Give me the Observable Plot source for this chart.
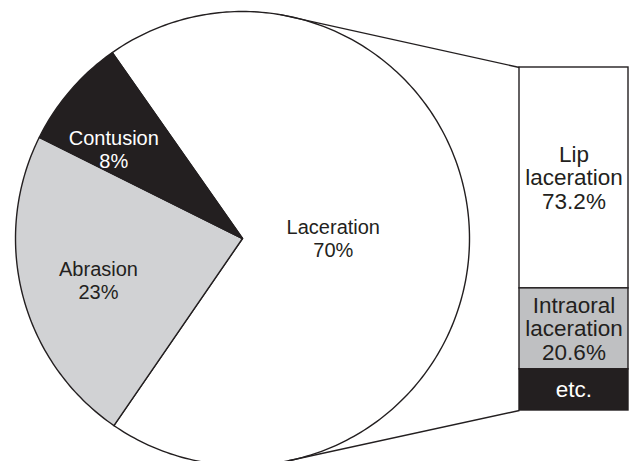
<!DOCTYPE html>
<html>
<head>
<meta charset="utf-8">
<script src="https://cdn.jsdelivr.net/npm/d3@7"></script>
<script src="https://cdn.jsdelivr.net/npm/@observablehq/plot@0.6"></script>
<style>
  html, body { margin: 0; padding: 0; background: #ffffff; }
  #chart svg { display: block; }
</style>
</head>
<body>
<div id="chart"></div>
<script>
// ---- data ----
const pieNames = ["Laceration", "Abrasion", "Contusion"];
const piePct = [70, 23, 8];
const subNames = ["Lip\nlaceration", "Intraoral\nlaceration", "etc."];
const subPct = [73.2, 20.6, null];
const subDrawn = [64.4, 23.6, 12.0]; // segment sizes as drawn in the picture

// ---- styles / layout ----
const W = 635, H = 461;
const cx = 242, cy = 238, R = 227;           // pie centre and radius (px)
const ink = "#231f20", pieGray = "#d1d2d4", boxGray = "#bfc0c2";
const pieFill = ["#ffffff", pieGray, ink];
const pieText = [ink, ink, "#ffffff"];
const subFill = ["#ffffff", boxGray, ink];
const subText = [ink, ink, "#ffffff"];
const font = "'Liberation Sans', Arial, Helvetica, sans-serif";
const rad = Math.PI / 180;
const startDeg = -35;
const labelR = [0.40, 0.66, 0.69];
const labelShift = [0, -1.5, -6];
const box = {x1: (519 - cx) / R, x2: (628 - cx) / R, top: (cy - 67) / R, bottom: (cy - 410) / R};
const connectorDeg = [9.6, 168.3];

// ---- derived geometry (in pie-radius units) ----
const arcs = d3.pie().sort(null).startAngle(startDeg * rad).endAngle((startDeg + 360) * rad)(piePct);
const slicePts = [];
arcs.forEach((a, i) => {
  slicePts.push({k: i, x: 0, y: 0});
  const n = Math.max(2, Math.ceil((a.endAngle - a.startAngle) / rad));
  for (let j = 0; j <= n; j++) {
    const t = a.startAngle + (a.endAngle - a.startAngle) * j / n;
    slicePts.push({k: i, x: Math.sin(t), y: Math.cos(t)});
  }
});
const pieLabels = arcs.map((a, i) => {
  const t = (a.startAngle + a.endAngle) / 2 + labelShift[i] * rad;
  return {x: labelR[i] * Math.sin(t), y: labelR[i] * Math.cos(t), text: pieNames[i] + "\n" + piePct[i] + "%", i};
});
const total = d3.sum(subDrawn);
let acc = 0;
const segs = subDrawn.map((v, i) => {
  const y1 = box.top - (box.top - box.bottom) * acc / total;
  acc += v;
  const y2 = box.top - (box.top - box.bottom) * acc / total;
  return {i, y1, y2, x1: box.x1, x2: box.x2,
          text: subNames[i] + (subPct[i] != null ? "\n" + subPct[i] + "%" : "")};
});
const links = [
  {x1: Math.sin(connectorDeg[0] * rad), y1: Math.cos(connectorDeg[0] * rad), x2: box.x1, y2: box.top},
  {x1: Math.sin(connectorDeg[1] * rad), y1: Math.cos(connectorDeg[1] * rad), x2: box.x1, y2: box.bottom}
];

const chart = Plot.plot({
  width: W, height: H,
  margin: 0,
  style: {background: "#ffffff", fontFamily: font},
  x: {domain: [-cx / R, (W - cx) / R], axis: null},
  y: {domain: [-(H - cy) / R, cy / R], axis: null},
  color: {type: "identity"},
  marks: [
    Plot.line(slicePts, {x: "x", y: "y", z: "k", curve: "linear-closed",
      fill: d => pieFill[d.k], stroke: ink, strokeWidth: 1.4, strokeLinejoin: "round"}),
    Plot.link(links, {x1: "x1", y1: "y1", x2: "x2", y2: "y2", stroke: ink, strokeWidth: 1.4}),
    Plot.rect(segs, {x1: "x1", x2: "x2", y1: "y1", y2: "y2", fill: d => subFill[d.i], stroke: ink, strokeWidth: 1.4}),
    Plot.text(pieLabels, {x: "x", y: "y", text: "text", fill: d => pieText[d.i],
      fontSize: 20, lineHeight: 1.15, fontFamily: font}),
    Plot.text(segs, {x: d => (d.x1 + d.x2) / 2, y: d => (d.y1 + d.y2) / 2, text: "text",
      fill: d => subText[d.i], fontSize: 22.5, lineHeight: 1.04, fontFamily: font})
  ]
});
document.getElementById("chart").appendChild(chart);
</script>
</body>
</html>
